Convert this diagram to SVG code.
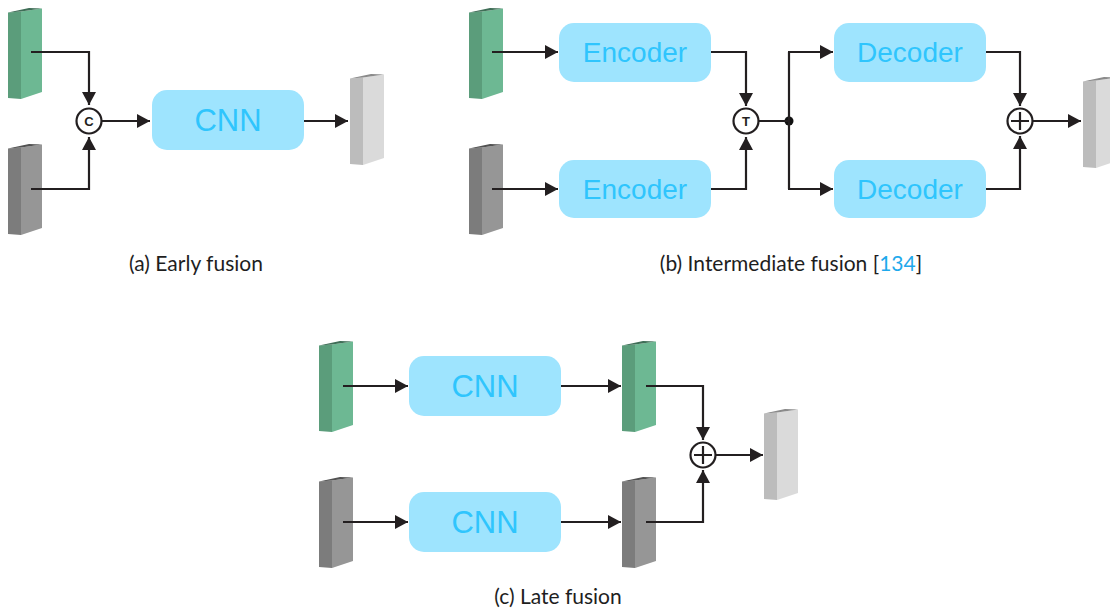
<svg xmlns="http://www.w3.org/2000/svg" xmlns:xlink="http://www.w3.org/1999/xlink" width="1110" height="615" viewBox="0 0 1110 615">
  <style>
    .box { fill: #9ee4fe; }
    .lbl { font-family: "Liberation Sans", Arial, sans-serif; fill: #2fc5fd; text-anchor: middle; }
    .cap { font-family: Lato, "Noto Sans", sans-serif; font-size: 21px; fill: #1e1e1e; text-anchor: middle; }
    .ref { fill: #1ea9ec; }
    .wire { fill: none; stroke: #231f20; stroke-width: 2.2; }
    .arr { marker-end: url(#head); }
    .op { fill: #fff; stroke: #231f20; stroke-width: 2.2; }
    .opt { font-family: "Liberation Sans", Arial, sans-serif; font-weight: bold; font-size: 13px; fill: #231f20; text-anchor: middle; }
  </style>
  <defs>
    <marker id="head" markerUnits="userSpaceOnUse" markerWidth="14" markerHeight="14" refX="13" refY="7" orient="auto" viewBox="0 0 14 14">
      <path d="M0,0 L13,7 L0,14 z" fill="#231f20"/>
    </marker>
    <!-- feature-map slabs: side face, front face, top face -->
    <g id="slab-green">
      <polygon points="0,4.5 13,3.5 13,91 0,90" fill="#5b9d7b"/>
      <polygon points="13,3.5 34,0.5 34,84 13,91" fill="#6db893"/>
      <polygon points="0,4.5 21,0 34,0.5 13,3.5" fill="#3f6e57"/>
    </g>
    <g id="slab-gray">
      <polygon points="0,4.5 13,3.5 13,91 0,90" fill="#7c7c7c"/>
      <polygon points="13,3.5 34,0.5 34,84 13,91" fill="#969696"/>
      <polygon points="0,4.5 21,0 34,0.5 13,3.5" fill="#525252"/>
    </g>
    <g id="slab-light">
      <polygon points="0,4.5 13,3.5 13,91 0,90" fill="#bcbcbc"/>
      <polygon points="13,3.5 34,0.5 34,84 13,91" fill="#dadada"/>
      <polygon points="0,4.5 21,0 34,0.5 13,3.5" fill="#8a8a8a"/>
    </g>
  </defs>

  <rect width="1110" height="615" fill="#ffffff"/>

  <!-- (a) early fusion -->
  <g id="a-in-rgb"><use xlink:href="#slab-green" x="8" y="8"/></g>
  <g id="a-in-depth"><use xlink:href="#slab-gray" x="8" y="144"/></g>
  <g id="a-concat">
    <circle class="op" cx="89" cy="121" r="12.5"/>
    <text class="opt" x="89" y="125.5">C</text>
  </g>
  <g id="a-cnn">
    <rect class="box" x="152" y="90" width="152" height="60" rx="15"/>
    <text class="lbl" x="228" y="131" font-size="31">CNN</text>
  </g>
  <g id="a-out"><use xlink:href="#slab-light" x="350" y="74"/></g>

  <!-- (b) intermediate fusion -->
  <g id="b-in-rgb"><use xlink:href="#slab-green" x="469" y="8"/></g>
  <g id="b-in-depth"><use xlink:href="#slab-gray" x="469" y="144"/></g>
  <g id="b-enc-1">
    <rect class="box" x="559" y="23" width="152" height="59" rx="15"/>
    <text class="lbl" x="635" y="62" font-size="28">Encoder</text>
  </g>
  <g id="b-enc-2">
    <rect class="box" x="559" y="160" width="152" height="58" rx="15"/>
    <text class="lbl" x="635" y="199" font-size="28">Encoder</text>
  </g>
  <g id="b-transform">
    <circle class="op" cx="746" cy="121" r="12.5"/>
    <text class="opt" x="746" y="125.5" font-size="12">T</text>
  </g>
  <g id="b-split"><circle cx="789" cy="121" r="4.5" fill="#111"/></g>
  <g id="b-dec-1">
    <rect class="box" x="834" y="23" width="152" height="59" rx="15"/>
    <text class="lbl" x="910" y="62" font-size="28">Decoder</text>
  </g>
  <g id="b-dec-2">
    <rect class="box" x="834" y="160" width="152" height="58" rx="15"/>
    <text class="lbl" x="910" y="199" font-size="28">Decoder</text>
  </g>
  <g id="b-sum">
    <circle class="op" cx="1020" cy="121" r="12.5"/>
    <path class="wire" d="M1011,121 H1029 M1020,112 V130"/>
  </g>
  <g id="b-out"><use xlink:href="#slab-light" x="1083" y="77"/></g>

  <!-- (c) late fusion -->
  <g id="c-in-rgb"><use xlink:href="#slab-green" x="319" y="341"/></g>
  <g id="c-in-depth"><use xlink:href="#slab-gray" x="319" y="477"/></g>
  <g id="c-cnn-1">
    <rect class="box" x="409" y="356" width="152" height="60" rx="15"/>
    <text class="lbl" x="485" y="397" font-size="31">CNN</text>
  </g>
  <g id="c-cnn-2">
    <rect class="box" x="409" y="492" width="152" height="60" rx="15"/>
    <text class="lbl" x="485" y="533" font-size="31">CNN</text>
  </g>
  <g id="c-feat-rgb"><use xlink:href="#slab-green" x="622" y="341"/></g>
  <g id="c-feat-depth"><use xlink:href="#slab-gray" x="622" y="477"/></g>
  <g id="c-sum">
    <circle class="op" cx="703" cy="455" r="12.5"/>
    <path class="wire" d="M694,455 H712 M703,446 V464"/>
  </g>
  <g id="c-out"><use xlink:href="#slab-light" x="764" y="409"/></g>

  <!-- connectors -->
  <g id="connectors">
    <path class="wire arr" d="M31,52 H89 V105"/>
    <path class="wire arr" d="M31,189 H89 V137"/>
    <path class="wire arr" d="M102,121 H150"/>
    <path class="wire arr" d="M304,121 H348"/>

    <path class="wire arr" d="M492,52 H558"/>
    <path class="wire arr" d="M492,189 H558"/>
    <path class="wire arr" d="M711,52 H746 V106"/>
    <path class="wire arr" d="M711,189 H746 V137"/>
    <path class="wire" d="M758,121 H789 M789,52 V189"/>
    <path class="wire arr" d="M788,52 H833"/>
    <path class="wire arr" d="M788,189 H833"/>
    <path class="wire arr" d="M986,52 H1020 V106"/>
    <path class="wire arr" d="M986,189 H1020 V136"/>
    <path class="wire arr" d="M1033,121 H1081"/>

    <path class="wire arr" d="M343,386 H408"/>
    <path class="wire arr" d="M343,522 H408"/>
    <path class="wire arr" d="M561,386 H621"/>
    <path class="wire arr" d="M561,522 H621"/>
    <path class="wire arr" d="M646,386 H703 V440"/>
    <path class="wire arr" d="M646,522 H703 V470"/>
    <path class="wire arr" d="M716,455 H763"/>
  </g>

  <!-- captions -->
  <text class="cap" x="196" y="271">(a) Early fusion</text>
  <text class="cap" x="791" y="271">(b) Intermediate fusion [<tspan class="ref">134</tspan>]</text>
  <text class="cap" x="558" y="604">(c) Late fusion</text>
</svg>
